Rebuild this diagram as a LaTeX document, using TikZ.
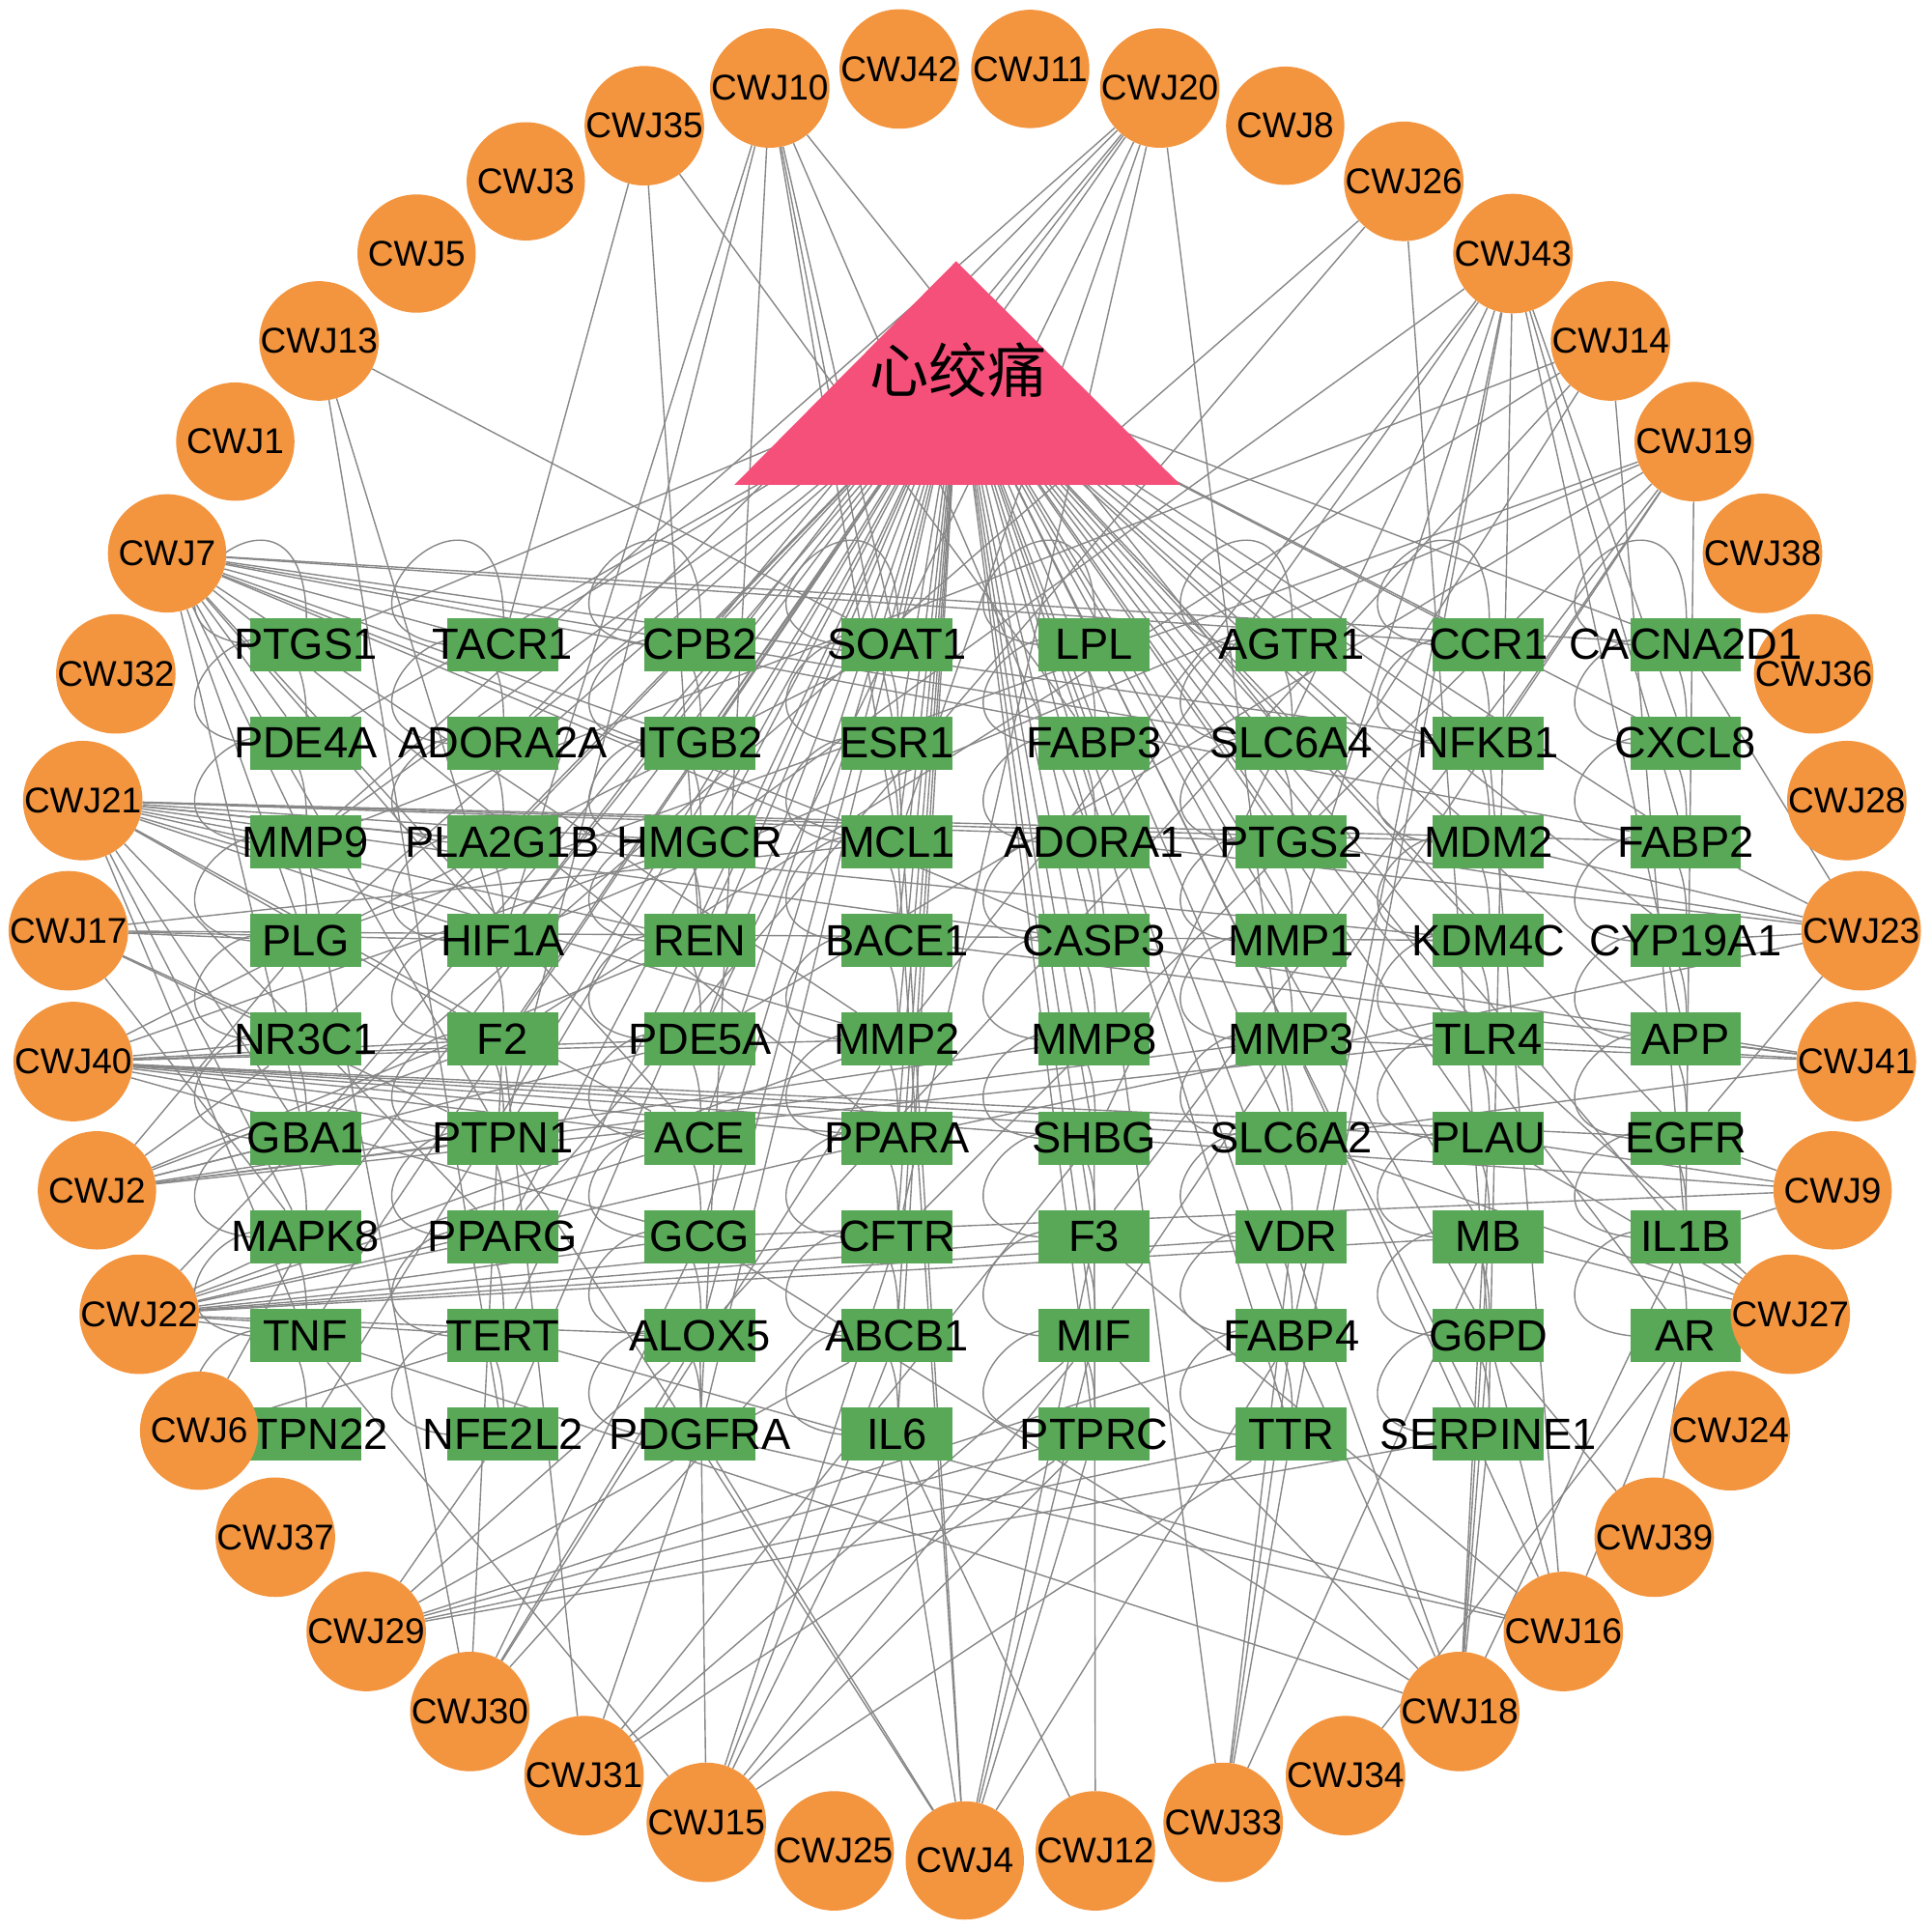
\documentclass[tikz,border=0pt]{standalone}
\usepackage{fontspec}
\setmainfont{Liberation Sans}
\newfontfamily\cjk{Noto Sans CJK SC}
\usetikzlibrary{calc}
\pgfdeclarelayer{bg}
\pgfsetlayers{bg,main}
\definecolor{cwjfill}{RGB}{243,148,62}
\definecolor{genefill}{RGB}{88,168,88}
\definecolor{trifill}{RGB}{245,80,122}
\definecolor{edgecol}{RGB}{135,135,135}
\begin{document}
\begin{tikzpicture}[x=1pt,y=-1pt,
  genebox/.style={rectangle, fill=genefill, minimum width=90pt, minimum height=43pt, inner sep=0pt},
  genetext/.style={inner sep=0pt, font=\fontsize{35.5}{35.5}\selectfont},
  cwj/.style={circle, fill=cwjfill, minimum size=96pt, inner sep=0pt, font=\fontsize{29}{29}\selectfont},
  edge/.style={draw=edgecol, line width=1.1pt},
  trilabel/.style={inner sep=0pt, font=\cjk\fontsize{48}{48}\selectfont}]
\useasboundingbox (0,0) rectangle (1568,1565);
% gene boxes
\foreach \g [count=\k from 0] in {PTGS1,TACR1,CPB2,SOAT1,LPL,AGTR1,CCR1,CACNA2D1,
  PDE4A,ADORA2A,ITGB2,ESR1,FABP3,SLC6A4,NFKB1,CXCL8,
  MMP9,PLA2G1B,HMGCR,MCL1,ADORA1,PTGS2,MDM2,FABP2,
  PLG,HIF1A,REN,BACE1,CASP3,MMP1,KDM4C,CYP19A1,
  NR3C1,F2,PDE5A,MMP2,MMP8,MMP3,TLR4,APP,
  GBA1,PTPN1,ACE,PPARA,SHBG,SLC6A2,PLAU,EGFR,
  MAPK8,PPARG,GCG,CFTR,F3,VDR,MB,IL1B,
  TNF,TERT,ALOX5,ABCB1,MIF,FABP4,G6PD,AR,
  PTPN22,NFE2L2,PDGFRA,IL6,PTPRC,TTR,SERPINE1}{
  \pgfmathtruncatemacro\c{mod(\k,8)}
  \pgfmathtruncatemacro\r{div(\k,8)}
  \node[genebox] (\g) at ({248+160*\c},{523+80.125*\r}) {};
}
\node[genetext] (tPTPN22) at (PTPN22) {PTPN22};
% compound circles
\foreach \n [count=\i from 0] in {4,12,33,34,18,16,39,24,27,9,41,23,28,36,38,19,14,43,26,8,20,11,42,10,35,3,5,13,1,7,32,21,17,40,2,22,6,37,29,30,31,15,25}{
  \node[cwj] (CWJ\n) at ($(783,782)+({90-\i*360/43}:728)$) {CWJ\n};
}
% gene labels
\foreach \g in {PTGS1,TACR1,CPB2,SOAT1,LPL,AGTR1,CCR1,CACNA2D1,
  PDE4A,ADORA2A,ITGB2,ESR1,FABP3,SLC6A4,NFKB1,CXCL8,
  MMP9,PLA2G1B,HMGCR,MCL1,ADORA1,PTGS2,MDM2,FABP2,
  PLG,HIF1A,REN,BACE1,CASP3,MMP1,KDM4C,CYP19A1,
  NR3C1,F2,PDE5A,MMP2,MMP8,MMP3,TLR4,APP,
  GBA1,PTPN1,ACE,PPARA,SHBG,SLC6A2,PLAU,EGFR,
  MAPK8,PPARG,GCG,CFTR,F3,VDR,MB,IL1B,
  TNF,TERT,ALOX5,ABCB1,MIF,FABP4,G6PD,AR,
  NFE2L2,PDGFRA,IL6,PTPRC,TTR,SERPINE1}{
  \node[genetext] (t\g) at (\g) {\g};
}
% disease triangle
\fill[trifill] (776,212) -- (958,393.5) -- (596,393.5) -- cycle;
\node[trilabel] (angina) at (778,300) {心绞痛};
% edges
\begin{pgfonlayer}{bg}
\foreach \g in {PTGS1,TACR1,CPB2,SOAT1,LPL,AGTR1,CCR1,CACNA2D1,
  PDE4A,ADORA2A,ITGB2,ESR1,FABP3,SLC6A4,NFKB1,CXCL8,
  MMP9,PLA2G1B,HMGCR,MCL1,ADORA1,PTGS2,MDM2,FABP2,
  PLG,HIF1A,REN,BACE1,CASP3,MMP1,KDM4C,CYP19A1,
  NR3C1,F2,PDE5A,MMP2,MMP8,MMP3,TLR4,APP,
  GBA1,PTPN1,ACE,PPARA,SHBG,SLC6A2,PLAU,EGFR,
  MAPK8,PPARG,GCG,CFTR,F3,VDR,MB,IL1B,
  TNF,TERT,ALOX5,ABCB1,MIF,FABP4,G6PD,AR,
  PTPN22,NFE2L2,PDGFRA,IL6,PTPRC,TTR,SERPINE1}{
  \draw[edge] (angina.center) -- (\g.center);
  \draw[edge] (\g.center) .. controls +(-210,20) and +(15,-200) .. (\g.center);
}
\foreach \a/\b in {
  CWJ10/HIF1A,CWJ10/PDGFRA,CWJ10/MCL1,CWJ10/ESR1,CWJ10/SOAT1,CWJ10/ADORA1,CWJ10/SLC6A4,CWJ10/PTPN1,
  CWJ20/MMP9,CWJ20/ADORA2A,CWJ20/HIF1A,CWJ20/PDE5A,CWJ20/MCL1,CWJ20/CFTR,CWJ20/SLC6A2,CWJ20/CPB2,CWJ20/ITGB2,
  CWJ35/TACR1,CWJ35/REN,CWJ35/FABP3,
  CWJ13/SOAT1,CWJ13/NFE2L2,CWJ13/HIF1A,
  CWJ26/GBA1,CWJ26/PPARG,CWJ26/G6PD,
  CWJ43/MMP2,CWJ43/SHBG,CWJ43/MMP1,CWJ43/TTR,CWJ43/FABP4,CWJ43/SERPINE1,CWJ43/APP,CWJ43/FABP2,CWJ43/CXCL8,CWJ43/ADORA1,CWJ43/HMGCR,
  CWJ14/MMP9,CWJ14/F2,CWJ14/ALOX5,CWJ14/IL1B,CWJ14/PTGS2,
  CWJ19/PLG,CWJ19/HIF1A,CWJ19/PDE5A,CWJ19/CFTR,CWJ19/MIF,CWJ19/F3,CWJ19/IL1B,CWJ19/NFKB1,
  CWJ7/CACNA2D1,CWJ7/CCR1,CWJ7/NFKB1,CWJ7/FABP2,CWJ7/SLC6A4,CWJ7/ITGB2,CWJ7/MCL1,CWJ7/CASP3,CWJ7/PDE4A,CWJ7/MMP9,CWJ7/PLG,CWJ7/GBA1,CWJ7/PTPN1,CWJ7/ACE,CWJ7/MMP2,CWJ7/PPARA,CWJ7/TACR1,CWJ7/HIF1A,
  CWJ21/MMP9,CWJ21/PLA2G1B,CWJ21/HMGCR,CWJ21/MDM2,CWJ21/PTGS2,CWJ21/FABP2,CWJ21/KDM4C,CWJ21/CASP3,CWJ21/HIF1A,CWJ21/REN,CWJ21/MMP2,CWJ21/F2,CWJ21/ACE,CWJ21/GBA1,CWJ21/MAPK8,CWJ21/PPARG,CWJ21/TNF,
  CWJ17/PLG,CWJ17/HIF1A,CWJ17/MCL1,CWJ17/PTPN1,CWJ17/MAPK8,CWJ17/KDM4C,CWJ17/NR3C1,
  CWJ40/NR3C1,CWJ40/F2,CWJ40/PDE5A,CWJ40/MMP2,CWJ40/ACE,CWJ40/PPARA,CWJ40/SHBG,CWJ40/SLC6A2,CWJ40/PLAU,CWJ40/GCG,CWJ40/SOAT1,CWJ40/HMGCR,CWJ40/PTPN1,CWJ40/EGFR,
  CWJ2/GBA1,CWJ2/PTPN1,CWJ2/PDE5A,CWJ2/MMP8,CWJ2/NR3C1,CWJ2/PLG,CWJ2/REN,CWJ2/MMP3,CWJ2/TLR4,CWJ2/F2,
  CWJ22/PPARG,CWJ22/ACE,CWJ22/PPARA,CWJ22/MMP2,CWJ22/GCG,CWJ22/CFTR,CWJ22/F3,CWJ22/VDR,CWJ22/TNF,CWJ22/TERT,CWJ22/MAPK8,CWJ22/GBA1,CWJ22/MB,CWJ22/ALOX5,
  CWJ6/MAPK8,CWJ6/TERT,
  CWJ29/NFE2L2,CWJ29/ALOX5,CWJ29/ABCB1,CWJ29/PTPRC,CWJ29/TTR,CWJ29/SERPINE1,CWJ29/FABP4,
  CWJ30/MMP9,CWJ30/F2,CWJ30/ALOX5,CWJ30/MMP2,CWJ30/CFTR,CWJ30/GCG,
  CWJ31/F2,CWJ31/PDGFRA,CWJ31/MIF,CWJ31/PTPRC,CWJ31/SHBG,
  CWJ15/TNF,CWJ15/CFTR,CWJ15/IL6,CWJ15/MIF,CWJ15/PTPRC,CWJ15/TTR,CWJ15/ABCB1,CWJ15/ALOX5,
  CWJ4/PDGFRA,CWJ4/PTPN1,CWJ4/MCL1,CWJ4/ESR1,CWJ4/F3,CWJ4/MIF,CWJ4/FABP4,CWJ4/IL6,CWJ4/PTPRC,
  CWJ12/IL6,CWJ12/SHBG,
  CWJ33/ADORA1,CWJ33/FABP4,CWJ33/VDR,CWJ33/MB,CWJ33/TTR,
  CWJ34/AR,
  CWJ18/VDR,CWJ18/SERPINE1,CWJ18/GCG,CWJ18/TNF,CWJ18/IL1B,CWJ18/MB,CWJ18/PLAU,CWJ18/G6PD,CWJ18/FABP4,CWJ18/MIF,
  CWJ16/PDGFRA,CWJ16/TERT,CWJ16/F3,CWJ16/MMP3,CWJ16/NFKB1,CWJ16/AR,CWJ16/G6PD,
  CWJ39/AR,CWJ39/G6PD,
  CWJ27/MB,CWJ27/SLC6A2,CWJ27/IL1B,CWJ27/PLAU,CWJ27/TLR4,
  CWJ9/SHBG,CWJ9/EGFR,CWJ9/GCG,CWJ9/IL1B,CWJ9/PLAU,
  CWJ41/APP,CWJ41/BACE1,CWJ41/TLR4,CWJ41/MMP3,CWJ41/SLC6A2,CWJ41/CASP3,
  CWJ23/CYP19A1,CWJ23/ADORA1,CWJ23/PTGS2,CWJ23/PPARA,CWJ23/EGFR,CWJ23/CACNA2D1,CWJ23/MDM2,CWJ23/FABP2}{
  \draw[edge] (\a) -- (\b);
}
\end{pgfonlayer}
\end{tikzpicture}
\end{document}
